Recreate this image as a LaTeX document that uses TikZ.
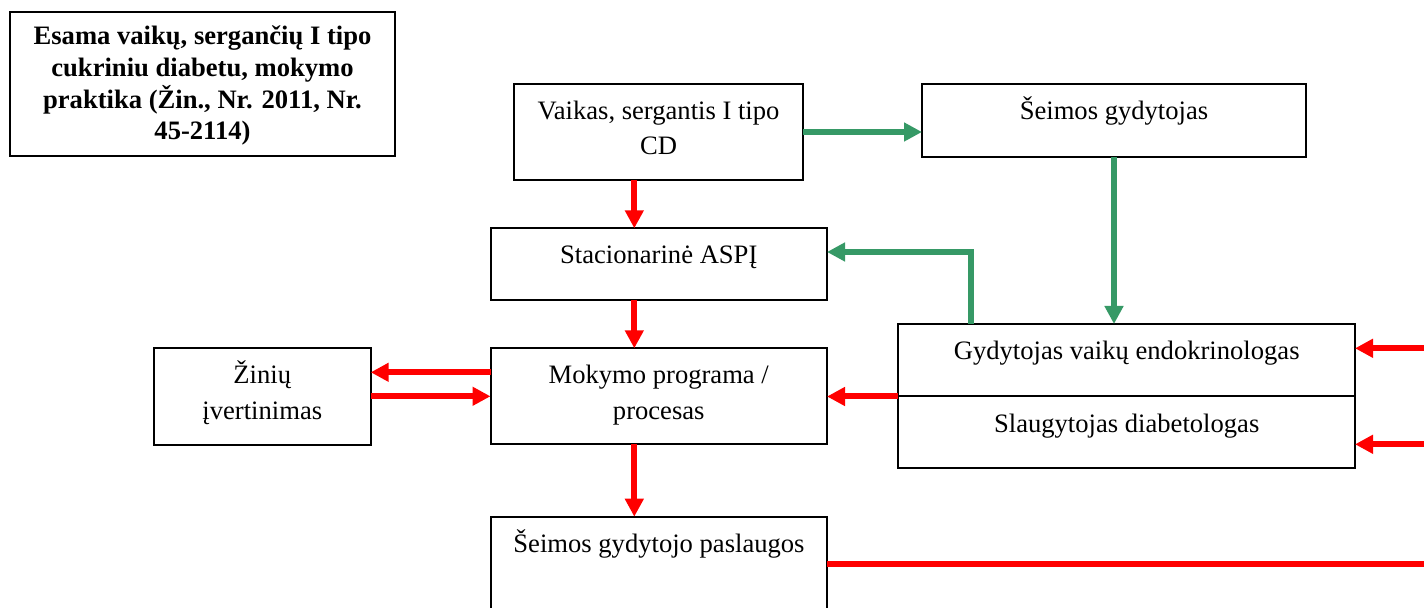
\documentclass[tikz,border=0pt]{standalone}
\usepackage{fontspec}
\setmainfont{Liberation Serif}
\usetikzlibrary{arrows.meta}
\definecolor{cgreen}{RGB}{54,153,102}
\definecolor{cred}{RGB}{255,0,0}
\begin{document}
\begin{tikzpicture}[x=0.5pt,y=-0.5pt,
  box/.style={draw=black,line width=1pt,inner sep=0pt,outer sep=0pt,anchor=north west},
  txt/.style={font=\fontsize{13.3}{16}\selectfont,anchor=base,inner sep=0pt},
  ttl/.style={font=\fontsize{13.3}{16}\selectfont\bfseries,anchor=base,inner sep=0pt},
  redline/.style={draw=cred,line width=3pt,line join=miter},
  redarr/.style={redline,-{Triangle[length=9pt,width=9pt]}},
  greenline/.style={draw=cgreen,line width=3pt,line join=miter},
  greenarr/.style={greenline,-{Triangle[length=9pt,width=9pt]}}]
\clip (0,0) rectangle (1424,608);
\fill[white] (0,0) rectangle (1424,608);

% boxes
\node[box,minimum width=192.5pt,minimum height=72pt] (title) at (10,12) {};
\node[box,minimum width=144.5pt,minimum height=48pt] (vaikas) at (514,84) {};
\node[box,minimum width=192pt,minimum height=36.5pt] (seimos) at (922,84) {};
\node[box,minimum width=168.25pt,minimum height=35.85pt] (stac) at (490.5,228.3) {};
\node[box,minimum width=108.35pt,minimum height=48.35pt] (zin) at (154,348.3) {};
\node[box,minimum width=168.25pt,minimum height=48pt] (mok) at (490.5,348.3) {};
\node[box,minimum width=228.35pt,minimum height=36.25pt] (gyd) at (898.3,324) {};
\node[box,minimum width=228.35pt,minimum height=35.9pt] (slaug) at (898.3,396.5) {};
\node[box,minimum width=168.3pt,minimum height=70pt] (pasl) at (490.7,516.7) {};

% texts
\node[ttl] (t1) at (202.5,45) {Esama vaikų, sergančių I tipo};
\node[ttl] (t2) at (202.5,76.7) {cukriniu diabetu, mokymo};
\node[ttl] (t3) at (202.5,108.3) {praktika (Žin., Nr. 2011, Nr.};
\node[ttl] (t4) at (202.5,139.3) {45-2114)};
\node[txt] (v1) at (658.5,119.3) {Vaikas, sergantis I tipo};
\node[txt] (v2) at (658.5,155) {CD};
\node[txt] (s1) at (1114,120) {Šeimos gydytojas};
\node[txt] (st1) at (658.75,263.3) {Stacionarinė ASPĮ};
\node[txt] (z1) at (262.3,383.3) {Žinių};
\node[txt] (z2) at (262.3,419.3) {įvertinimas};
\node[txt] (m1) at (658.75,383.3) {Mokymo programa /};
\node[txt] (m2) at (658.75,419.3) {procesas};
\node[txt] (g1) at (1126.7,359.3) {Gydytojas vaikų endokrinologas};
\node[txt] (g2) at (1126.7,432.7) {Slaugytojas diabetologas};
\node[txt] (p1) at (659,552.7) {Šeimos gydytojo paslaugos};

% helper coordinates
\coordinate (rx) at (634.3,0);
\coordinate (ya) at (0,372.3);
\coordinate (yb) at (0,396.3);
\coordinate (gc) at (970.5,252);
\coordinate (r1) at (1426.5,348.3);
\coordinate (r2) at (1426.5,444.3);
\coordinate (r3) at (1426.5,564.3);

% green connectors
\draw[greenarr] (vaikas.east) -- (seimos.west |- vaikas.east);
\draw[greenarr] (seimos.south) -- (gyd.north -| seimos.south);
\draw[greenarr] (gyd.north -| gc) -- (gc) -- (stac.east |- gc);

% red connectors
\draw[redarr] (vaikas.south -| rx) -- (stac.north -| rx);
\draw[redarr] (stac.south -| rx) -- (mok.north -| rx);
\draw[redarr] (mok.south -| rx) -- (pasl.north -| rx);
\draw[redarr] (mok.west |- ya) -- (zin.east |- ya);
\draw[redarr] (zin.east |- yb) -- (mok.west |- yb);
\draw[redarr] (slaug.north west) -- (mok.east |- slaug.north west);
\draw[redline] (pasl.east |- r3) -- (r3) -- (r1);
\draw[redarr] (r1) -- (gyd.east |- r1);
\draw[redarr] (r2) -- (slaug.east |- r2);
\end{tikzpicture}
\end{document}
